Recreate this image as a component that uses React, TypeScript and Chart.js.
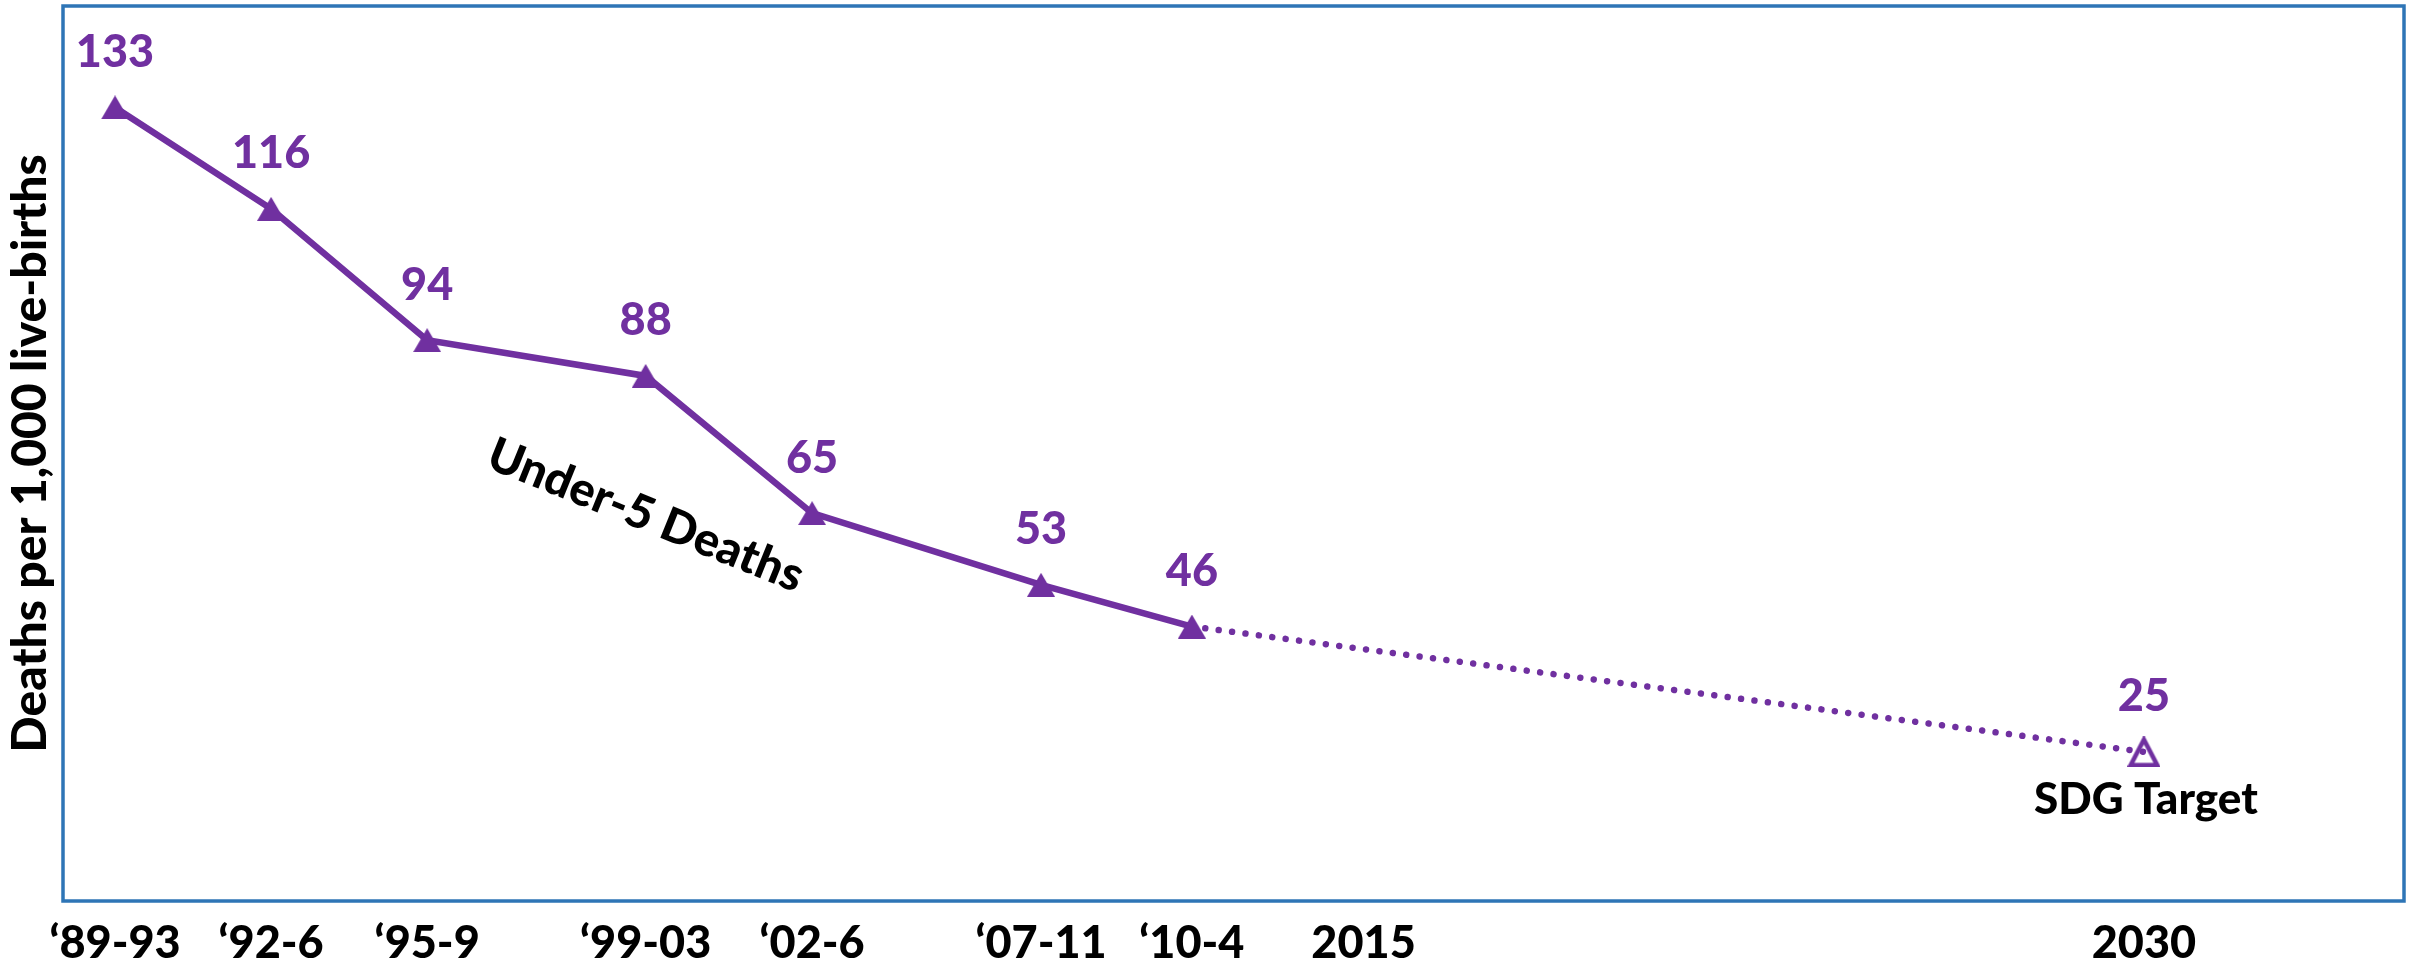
import React, { useEffect, useRef } from "react";
import { Chart, registerables } from "chart.js";

Chart.register(...registerables);

// ---- data ----
const surveyYears = [1991, 1994, 1997, 2001.2, 2004.4, 2008.8, 2011.7, 2030];
const deathsPer1000 = [133, 116, 94, 88, 65, 53, 46, 25];
const tickYears = [1991, 1994, 1997, 2001.2, 2004.4, 2008.8, 2011.7, 2015, 2030];
const tickLabels = ["‘89-93", "‘92-6", "‘95-9", "‘99-03", "‘02-6", "‘07-11", "‘10-4", "2015", "2030"];
const seriesLabel = "Under-5 Deaths";
const targetLabel = "SDG Target";
const yAxisTitle = "Deaths per 1,000 live-births";
const lastObservedIndex = 6;
const seriesLabelAnchor = { x: 2001.2, y: 64.6 };

const PURPLE = "#7030A0";
const FRAME_BLUE = "#2E75B6";
const FONT = "Lato";
const WEIGHT = "900";

function makeTriangle(w: number, h: number, filled: boolean): HTMLCanvasElement {
  const c = document.createElement("canvas");
  c.width = w;
  c.height = h;
  const g = c.getContext("2d")!;
  g.beginPath();
  if (filled) {
    g.moveTo(0, h);
    g.lineTo(w / 2, 0);
    g.lineTo(w, h);
    g.closePath();
    g.fillStyle = PURPLE;
    g.fill();
  } else {
    const lw = 4.5;
    g.moveTo(lw / 2 + 1, h - lw / 2);
    g.lineTo(w / 2, lw / 2 + 1);
    g.lineTo(w - lw / 2 - 1, h - lw / 2);
    g.closePath();
    g.lineJoin = "miter";
    g.lineWidth = lw;
    g.strokeStyle = PURPLE;
    g.stroke();
  }
  return c;
}

const annotationPlugin = {
  id: "annotations",
  beforeDraw(chart: any) {
    const { ctx } = chart;
    ctx.save();
    ctx.fillStyle = "#ffffff";
    ctx.fillRect(0, 0, chart.width, chart.height);
    ctx.restore();
  },
  afterDatasetsDraw(chart: any) {
    const { ctx, chartArea, scales } = chart;
    const xs = scales.x;
    const ys = scales.y;
    ctx.save();
    // frame
    ctx.strokeStyle = FRAME_BLUE;
    ctx.lineWidth = 3.5;
    ctx.strokeRect(chartArea.left, chartArea.top, chartArea.right - chartArea.left, chartArea.bottom - chartArea.top);

    // value labels
    ctx.fillStyle = PURPLE;
    ctx.font = `${WEIGHT} 45px ${FONT}`;
    ctx.textAlign = "center";
    ctx.textBaseline = "middle";
    deathsPer1000.forEach((v, i) => {
      const px = xs.getPixelForValue(surveyYears[i]);
      const py = ys.getPixelForValue(v);
      ctx.fillText(String(v), px, py - 55);
    });

    // series label (rotated)
    ctx.fillStyle = "#000000";
    ctx.font = `${WEIGHT} 47px ${FONT}`;
    const lx = xs.getPixelForValue(seriesLabelAnchor.x);
    const ly = ys.getPixelForValue(seriesLabelAnchor.y);
    ctx.save();
    ctx.translate(lx, ly);
    ctx.rotate((22 * Math.PI) / 180);
    ctx.fillText(seriesLabel, 0, 0);
    ctx.restore();

    // target label
    const last = deathsPer1000.length - 1;
    const tx = xs.getPixelForValue(surveyYears[last]);
    const ty = ys.getPixelForValue(deathsPer1000[last]);
    ctx.font = `${WEIGHT} 44px ${FONT}`;
    ctx.fillText(targetLabel, tx + 2, ty + 48);
    ctx.restore();
  },
};

export default function App() {
  const canvasRef = useRef<HTMLCanvasElement | null>(null);

  useEffect(() => {
    const canvas = canvasRef.current;
    if (!canvas) return;
    const filledTri = makeTriangle(28, 24, true);
    const hollowTri = makeTriangle(33, 31, false);

    const chart = new Chart(canvas, {
      type: "line",
      data: {
        datasets: [
          {
            label: seriesLabel,
            data: surveyYears.map((x, i) => ({ x, y: deathsPer1000[i] })),
            borderColor: PURPLE,
            backgroundColor: PURPLE,
            borderWidth: 6.5,
            tension: 0,
            fill: false,
            pointStyle: (ctx: any) => (ctx.dataIndex === surveyYears.length - 1 ? hollowTri : filledTri),
            pointRadius: 14,
            pointHoverRadius: 14,
            segment: {
              borderDash: (ctx: any) => (ctx.p0DataIndex >= lastObservedIndex ? [0.01, 13.5] : undefined),
              borderCapStyle: (ctx: any) => (ctx.p0DataIndex >= lastObservedIndex ? "round" : "butt"),
            },
          } as any,
        ],
      },
      options: {
        animation: false,
        responsive: false,
        maintainAspectRatio: false,
        events: [],
        layout: { autoPadding: false, padding: { top: 6, right: 11, left: 0, bottom: 0 } },
        plugins: {
          legend: { display: false },
          tooltip: { enabled: false },
          title: { display: false },
        },
        scales: {
          x: {
            type: "linear",
            min: 1990,
            max: 2035,
            grid: { display: false, drawTicks: false },
            border: { display: false },
            afterBuildTicks: (scale: any) => {
              scale.ticks = tickYears.map((v) => ({ value: v }));
            },
            afterFit: (scale: any) => {
              scale.height = 66;
            },
            ticks: {
              autoSkip: false,
              maxRotation: 0,
              minRotation: 0,
              color: "#000000",
              padding: 15,
              font: { family: FONT, weight: WEIGHT, size: 45 },
              callback: (_v: any, i: number) => tickLabels[i],
            },
          },
          y: {
            type: "linear",
            min: 0,
            max: 150,
            grid: { display: false, drawTicks: false },
            border: { display: false },
            ticks: { display: false },
            afterFit: (scale: any) => {
              scale.width = 63;
            },
            title: {
              display: true,
              text: yAxisTitle,
              color: "#000000",
              font: { family: FONT, weight: WEIGHT, size: 48 },
              padding: { top: 2, bottom: 0 },
            },
          },
        },
      } as any,
      plugins: [annotationPlugin],
    });

    return () => {
      chart.destroy();
    };
  }, []);

  return (
    <div style={{ position: "absolute", left: 0, top: 0, width: 2415, height: 967, background: "#ffffff" }}>
      <canvas ref={canvasRef} width={2415} height={967} style={{ display: "block", width: 2415, height: 967 }} />
    </div>
  );
}
